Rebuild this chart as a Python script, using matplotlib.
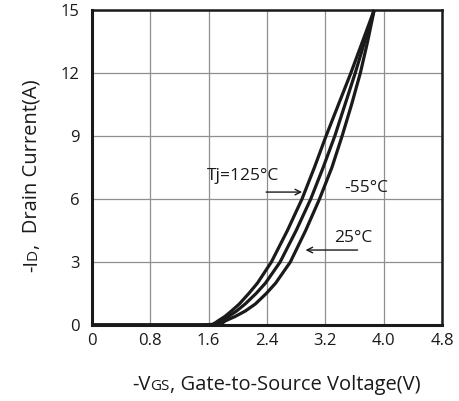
import matplotlib
matplotlib.use("Agg")
import matplotlib.pyplot as plt
from matplotlib.transforms import IdentityTransform

plt.rcParams['font.family'] = ['Open Sans', 'DejaVu Sans']

# ---- data ----
id_vals = [0.0, 0.0, 0.03, 0.1, 0.2, 0.4, 0.66, 1.0, 1.5, 2.0, 3.0, 4.5, 6.0, 7.5, 9.0, 10.5, 12.0, 13.5, 15.0]
vgs_125 = [0.0, 1.50, 1.65, 1.69, 1.73, 1.82, 1.91, 2.02, 2.15, 2.27, 2.46, 2.68, 2.88, 3.05, 3.21, 3.38, 3.55, 3.71, 3.87]
vgs_25 = [0.0, 1.55, 1.70, 1.73, 1.76, 1.87, 1.98, 2.10, 2.25, 2.38, 2.58, 2.80, 3.00, 3.17, 3.33, 3.47, 3.61, 3.74, 3.87]
vgs_m55 = [0.0, 1.60, 1.75, 1.79, 1.83, 1.96, 2.10, 2.24, 2.39, 2.52, 2.72, 2.93, 3.12, 3.29, 3.43, 3.56, 3.68, 3.78, 3.87]

x_ticks = [0, 0.8, 1.6, 2.4, 3.2, 4.0, 4.8]
x_tick_labels = ['0', '0.8', '1.6', '2.4', '3.2', '4.0', '4.8']
y_ticks = [0, 3, 6, 9, 12, 15]
y_tick_labels = ['0', '3', '6', '9', '12', '15']

W, H = 459, 401
fig = plt.figure(figsize=(W / 100, H / 100), dpi=100)
ax = fig.add_axes([92 / W, 1 - 325 / H, (442 - 92) / W, (325 - 10) / H])

for v in (vgs_125, vgs_25, vgs_m55):
    ax.plot(v, id_vals, color='#1a1a1a', lw=2.3, solid_capstyle='butt',
            solid_joinstyle='round', zorder=3, clip_on=False)

ax.set_xlim(0, 4.8)
ax.set_ylim(0, 15)
ax.set_xticks(x_ticks)
ax.set_xticklabels(x_tick_labels)
ax.set_yticks(y_ticks)
ax.set_yticklabels(y_tick_labels)
ax.tick_params(length=0, labelsize=12, colors='#1a1a1a')
ax.tick_params(axis='x', pad=6)
ax.tick_params(axis='y', pad=9)
ax.grid(True, color='#8f8f8f', lw=0.9)
ax.set_axisbelow(True)
for side, lw in (('left', 2.2), ('bottom', 2.2), ('top', 1.8), ('right', 1.8)):
    ax.spines[side].set_linewidth(lw)
    ax.spines[side].set_color('#1a1a1a')

# annotations
ax.text(1.57, 6.9, 'Tj=125°C', fontsize=12.5, color='#1a1a1a', va='baseline', ha='left')
ax.annotate('', xy=(2.92, 6.33), xytext=(2.35, 6.33),
            arrowprops=dict(arrowstyle='->', color='#1a1a1a', lw=1.0))
ax.text(3.46, 6.5, '-55°C', fontsize=12.5, color='#1a1a1a', va='center', ha='left')
ax.text(3.32, 4.15, '25°C', fontsize=12.5, color='#1a1a1a', va='center', ha='left')
ax.annotate('', xy=(2.89, 3.57), xytext=(3.68, 3.57),
            arrowprops=dict(arrowstyle='->', color='#1a1a1a', lw=1.0))

# composed axis labels (smaller subscript letters on baseline)
fig.canvas.draw()
renderer = fig.canvas.get_renderer()


def composed(pieces, cx, cy, rotation=0):
    texts = []
    widths = []
    for s, size in pieces:
        t = fig.text(0, 0, s, fontsize=size, color='#1a1a1a', transform=IdentityTransform(),
                     ha='left', va='baseline', rotation=rotation, rotation_mode='anchor')
        texts.append(t)
        tmp = fig.text(0, 0, s, fontsize=size, transform=IdentityTransform())
        widths.append(tmp.get_window_extent(renderer).width)
        tmp.remove()
    total = sum(widths)
    pos = -total / 2
    for t, w in zip(texts, widths):
        if rotation == 0:
            t.set_position((cx + pos, cy))
        else:
            t.set_position((cx, cy + pos))
        pos += w


composed([('-V', 14.5), ('GS', 11), (', Gate-to-Source Voltage(V)', 14.5)], 276, H - 390)
composed([('-I', 14.5), ('D', 11), (',  Drain Current(A)', 14.5)], 37, H - 176, rotation=90)

fig.savefig('out.png', dpi=100)
